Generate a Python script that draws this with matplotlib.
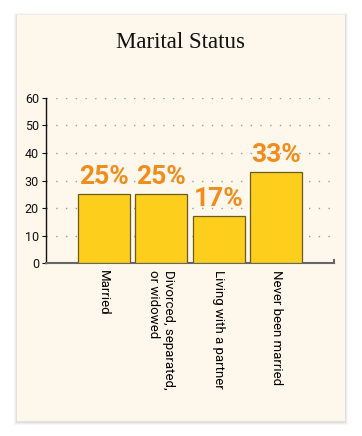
import matplotlib
matplotlib.use("Agg")
import matplotlib.pyplot as plt
from matplotlib.patches import Rectangle

categories = ["Married", "Divorced, separated,\nor widowed", "Living with a partner", "Never been married"]
values = [25, 25, 17, 33]
labels = ["25%", "25%", "17%", "33%"]
yticks = [0, 10, 20, 30, 40, 50, 60]

W, H = 362, 436
fig = plt.figure(figsize=(W / 100, H / 100), dpi=100)
fig.patch.set_facecolor("white")

# card shadow + card
for i, a in enumerate([0.03, 0.04, 0.05]):
    d = 3 - i
    fig.patches.append(Rectangle(((17 - d) / W, 1 - (421 + d + 1) / H), (328 + 2 * d) / W, (406 + 2 * d) / H,
                                 transform=fig.transFigure, facecolor="black", alpha=a, edgecolor="none", zorder=-3))
fig.patches.append(Rectangle((17 / W, 1 - 421 / H), 328 / W, 406 / H, transform=fig.transFigure,
                             facecolor="#fdf7ec", edgecolor="none", zorder=-2))

fig.text(181 / W, 1 - 48 / H, "Marital Status", ha="center", va="baseline",
         fontsize=16.5, family="Liberation Serif", color="#111111", zorder=5)

ax = fig.add_axes([46 / W, 1 - 263 / H, 288 / W, 165 / H])
ax.set_zorder(3)
ax.set_facecolor("none")
x = list(range(1, len(values) + 1))
ax.bar(x, values, width=0.9, color="#fdcf1c", edgecolor="#6b5a22", linewidth=0.9, zorder=3)
for xi, v, t in zip(x, values, labels):
    ax.annotate(t, (xi, v), xytext=(0, 4), textcoords="offset points", ha="center", va="bottom",
                fontsize=19, fontweight="bold", family="Roboto", color="#f28c1c", zorder=4)

ax.set_xlim(0, 5)
ax.set_ylim(0, 60)
ax.set_yticks(yticks)
ax.set_yticklabels([str(t) for t in yticks], family="Roboto", fontsize=9)
ax.set_xticks(x)
ax.set_xticklabels(categories, rotation=270, ha="center", va="top", multialignment="left",
                   family="Roboto", fontsize=9.5)
ax.tick_params(axis="x", length=0, pad=5)
ax.tick_params(axis="y", length=3, width=0.8, pad=2, colors="#111111")
for yt in yticks[1:]:
    ax.axhline(yt, color="#a39c8e", linestyle=(0, (1, 6)), linewidth=1.0, zorder=1)
ax.spines["top"].set_visible(False)
ax.spines["right"].set_visible(False)
ax.spines["left"].set_color("#111111")
ax.spines["left"].set_linewidth(1.0)
ax.spines["bottom"].set_color("#666666")
ax.spines["bottom"].set_linewidth(1.5)
ax.plot([5, 5], [0, 1.2], color="#666666", linewidth=1.5, clip_on=False, zorder=5)

fig.savefig("out.png", dpi=100, facecolor="white")
